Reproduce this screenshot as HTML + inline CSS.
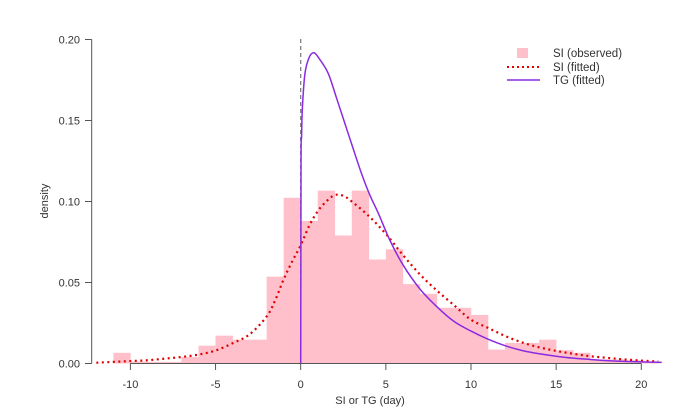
<!DOCTYPE html>
<html><head><meta charset="utf-8"><style>
body{margin:0;background:#fff}
svg text{font-family:"Liberation Sans",Arial,sans-serif;fill:#333}
</style></head><body>
<svg id="chart" width="678" height="415" xmlns="http://www.w3.org/2000/svg">
<g id="hist"></g>
<line x1="300.7" y1="39" x2="300.7" y2="363.5" stroke="#777" stroke-width="1.2" stroke-dasharray="4,3"/>
<g id="curves"></g>
<g id="axes"></g>
<text x="48" y="201" font-size="11" text-anchor="middle" transform="rotate(-90 48 201)">density</text>
<text x="370" y="404" font-size="11" text-anchor="middle">SI or TG (day)</text>
<g>
<g><rect x="517" y="48" width="11" height="10" fill="#ffc0cb"/><text x="553" y="57" font-size="11.5">SI (observed)</text></g>
<g><line x1="507" y1="67" x2="540" y2="67" stroke="#e00000" stroke-width="2" stroke-dasharray="2,3"/><text x="553" y="71" font-size="11.5">SI (fitted)</text></g>
<g><line x1="507" y1="80" x2="540" y2="80" stroke="#8a2be2" stroke-width="1.5"/><text x="553" y="84" font-size="11.5">TG (fitted)</text></g>
</g>
</svg>
<script>
const binStarts=[-11,-10,-9,-8,-7,-6,-5,-4,-3,-2,-1,0,1,2,3,4,5,6,7,8,9,10,11,12,13,14,15,16,17,18,19,20];
const binDensity=[0.0066,0.0012,0.001,0.001,0.004,0.011,0.0172,0.0147,0.0147,0.0536,0.1023,0.088,0.1067,0.079,0.1067,0.0642,0.0705,0.049,0.043,0.0344,0.0344,0.030,0.0086,0.0127,0.0127,0.0147,0.0082,0.0066,0.0025,0.0025,0.002,0.001];
const siX=[-12,-11,-10,-9,-8,-7,-6,-5,-4,-3,-2,-1.5,-1,-0.5,0,0.5,1,1.5,2,2.5,3,4,5,6,7,8,9,10,11,12,13,14,15,16,17,18,19,20,21];
const siY=[0.0005,0.001,0.0015,0.002,0.003,0.004,0.0055,0.008,0.0125,0.018,0.029,0.039,0.052,0.063,0.073,0.085,0.094,0.1,0.104,0.1035,0.100,0.091,0.080,0.067,0.055,0.045,0.036,0.027,0.022,0.017,0.013,0.010,0.0078,0.006,0.0045,0.0035,0.0025,0.0018,0.0012];
const tgX=[0,0.02,0.05,0.1,0.25,0.5,0.78,1.1,1.62,2.1,2.6,3.1,3.58,4.06,4.56,5.24,6,7,8,9,10,11,12,13,14,15,16,17,18,19,20,21.2];
const tgY=[0,0.125,0.14,0.158,0.179,0.189,0.1918,0.188,0.179,0.164,0.148,0.132,0.117,0.104,0.0927,0.076,0.061,0.046,0.035,0.026,0.020,0.015,0.011,0.008,0.006,0.0045,0.0033,0.0025,0.0018,0.0013,0.001,0.0007];
const xTicks=[-10,-5,0,5,10,15,20];
const yTicks=[0,0.05,0.10,0.15,0.20];
const yTickLabels=["0.00","0.05","0.10","0.15","0.20"];
const NS="http://www.w3.org/2000/svg";
const sx=v=>300.7+v*17.03;
const sy=v=>363.5-v*1620;
function mk(t,a,p){const e=document.createElementNS(NS,t);for(const k in a)e.setAttribute(k,a[k]);p.appendChild(e);return e;}
function smooth(xs,ys){
 const P=xs.map((x,i)=>[sx(x),sy(ys[i])]);
 let d='M'+P[0][0]+','+P[0][1];
 for(let i=0;i<P.length-1;i++){
  const p0=P[Math.max(0,i-1)],p1=P[i],p2=P[i+1],p3=P[Math.min(P.length-1,i+2)];
  if(i===0){d+='L'+p2[0]+','+p2[1];continue;}
  const c1=[p1[0]+(p2[0]-p0[0])/6,p1[1]+(p2[1]-p0[1])/6];
  const c2=[p2[0]-(p3[0]-p1[0])/6,p2[1]-(p3[1]-p1[1])/6];
  d+='C'+c1[0]+','+c1[1]+' '+c2[0]+','+c2[1]+' '+p2[0]+','+p2[1];
 }
 return d;
}
const hist=document.getElementById('hist');
binStarts.forEach((b,i)=>{
 const r=mk('rect',{x:sx(b),y:sy(binDensity[i]),width:sx(b+1)-sx(b)+0.3,height:sy(0)-sy(binDensity[i]),fill:'#ffc0cb'},hist);
 
 
});
const cv=document.getElementById('curves');
const si=mk('path',{d:smooth(siX,siY),fill:'none',stroke:'#e00000','stroke-width':2.2,'stroke-dasharray':'2,3.5'},cv);


const tg=mk('path',{d:smooth(tgX,tgY),fill:'none',stroke:'#8a2be2','stroke-width':1.5},cv);


const ax=document.getElementById('axes');
mk('line',{x1:91.7,y1:sy(0),x2:91.7,y2:sy(0.2),stroke:'#555'},ax);
yTicks.forEach((v,i)=>{
 mk('line',{x1:85,y1:sy(v),x2:91.7,y2:sy(v),stroke:'#555'},ax);
 const t=mk('text',{x:80,y:sy(v)+4,'font-size':11,'text-anchor':'end'},ax);t.textContent=yTickLabels[i];
 
 
});
mk('line',{x1:sx(-10),y1:363.5,x2:sx(20),y2:363.5,stroke:'#555'},ax);
xTicks.forEach(v=>{
 mk('line',{x1:sx(v),y1:363.5,x2:sx(v),y2:370,stroke:'#555'},ax);
 const t=mk('text',{x:sx(v),y:388,'font-size':11,'text-anchor':'middle'},ax);t.textContent=v;
 
 
});
</script>
</body></html>
